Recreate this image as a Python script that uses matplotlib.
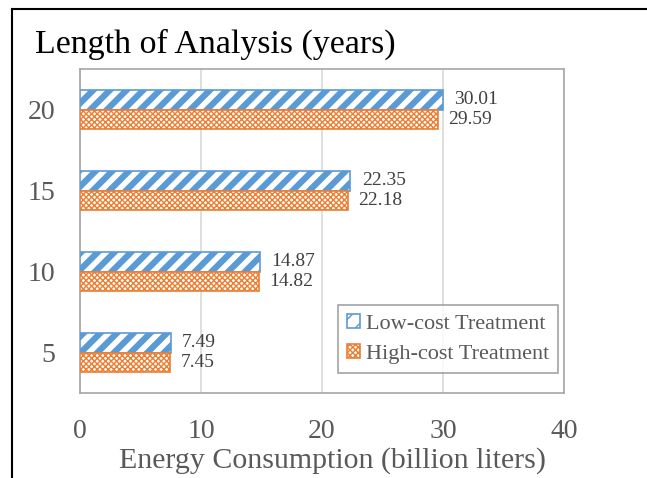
import matplotlib
matplotlib.use("Agg")
import matplotlib.pyplot as plt
from matplotlib.lines import Line2D
import numpy as np

years = ["5", "10", "15", "20"]
low_cost = [7.49, 14.87, 22.35, 30.01]
high_cost = [7.45, 14.82, 22.18, 29.59]

blue = "#5B9BD5"
orange = "#ED7D31"
grey_txt = "#595959"

plt.rcParams["font.family"] = ["Liberation Serif", "DejaVu Serif"]
plt.rcParams["hatch.linewidth"] = 4.5

fig = plt.figure(figsize=(6.47, 4.78), dpi=100)
ax = fig.add_axes([0.1236, 0.1778, 0.748, 0.6778])

y = np.arange(len(years))
h = 0.24

b1 = ax.barh(y + h / 2, low_cost, height=h, color="white", edgecolor=blue,
             hatch="//", linewidth=1.2, label="Low-cost Treatment", zorder=3)
plt.rcParams["hatch.linewidth"] = 1.0
b2 = ax.barh(y - h / 2, high_cost, height=h, color="white", edgecolor=orange,
             hatch="xxxxxx", linewidth=1.2, label="High-cost Treatment", zorder=3)

# value labels
for bar, v in zip(b1, low_cost):
    ax.text(bar.get_width() + 0.95, bar.get_y() + bar.get_height() / 2,
            f"{v:.2f}", va="center", ha="left", fontsize=14, color="#404040")
for bar, v in zip(b2, high_cost):
    ax.text(bar.get_width() + 0.85, bar.get_y() + bar.get_height() / 2,
            f"{v:.2f}", va="center", ha="left", fontsize=14, color="#404040")

ax.set_xlim(0, 40)
ax.set_ylim(-0.5, 3.5)
ax.set_xticks([0, 10, 20, 30, 40])
ax.set_yticks(y)
ax.set_yticklabels(years)
ax.tick_params(axis="both", length=0, labelsize=20, colors=grey_txt)
ax.tick_params(axis="y", pad=18)
ax.tick_params(axis="x", pad=19)
ax.grid(axis="x", color="#D9D9D9", linewidth=1.2, zorder=0)
for s in ax.spines.values():
    s.set_color("#A6A6A6")
    s.set_linewidth(1.2)

fig.text(332.5 / 647, 1 - 468 / 478, "Energy Consumption (billion liters)",
         fontsize=21.5, color=grey_txt, ha="center", va="baseline")

fig.text(0.054, 1 - 53 / 478, "Length of Analysis (years)", fontsize=24.4,
         va="baseline", ha="left", color="black")

leg = ax.legend(loc="lower right", bbox_to_anchor=(0.988, 0.062),
                fontsize=16, frameon=True, fancybox=False,
                handlelength=0.6, handleheight=0.6, handletextpad=0.25,
                labelspacing=0.45, borderpad=0.4, borderaxespad=0)
leg.get_frame().set_edgecolor("#8C8C8C")
leg.get_frame().set_linewidth(1.2)
for t in leg.get_texts():
    t.set_color(grey_txt)

# outer border (left and top only, like the cropped source)
fig.add_artist(Line2D([12 / 647, 12 / 647], [0, 1 - 9 / 478],
                      transform=fig.transFigure, color="black", linewidth=1.5))
fig.add_artist(Line2D([12 / 647, 1], [1 - 9 / 478, 1 - 9 / 478],
                      transform=fig.transFigure, color="black", linewidth=1.5))

plt.savefig("out.png", dpi=100)
